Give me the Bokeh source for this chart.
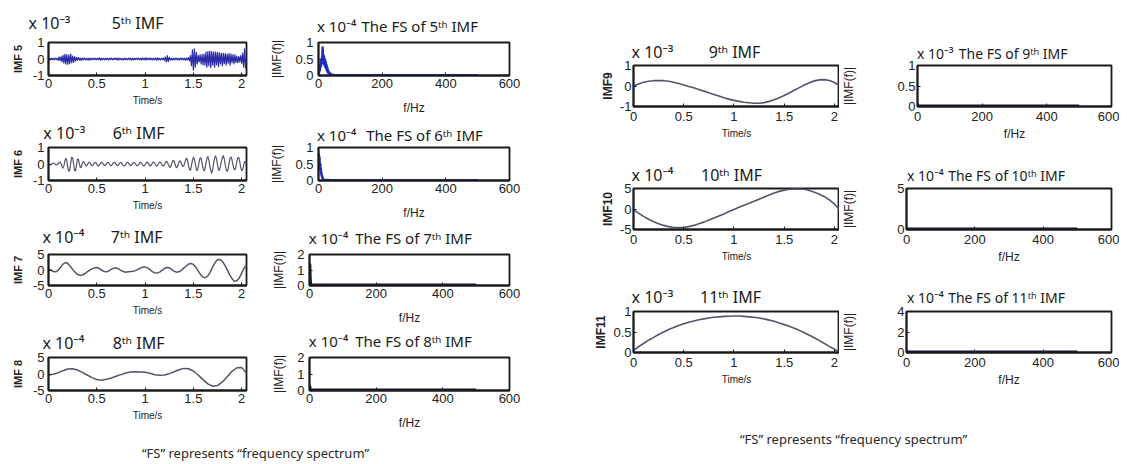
import numpy as np
from bokeh.plotting import figure
from bokeh.models import (Range1d, FixedTicker, Label, Spacer, NumeralTickFormatter,
                          LinearAxis)
from bokeh.layouts import row, column
from bokeh.embed import file_html
from bokeh.resources import INLINE

# ---------------------------------------------------------------- data
# sampling steps (s) of the hand-read IMF traces
dt_imf5 = 0.01
dt_imf6 = 0.01
dt_imf7 = 0.025
dt_imf8 = 0.05
dt_imf9 = 0.05
dt_imf10 = 0.05
dt_imf11 = 0.05

# IMF5, x1e-3
imf5 = [0.00, 0.03, -0.04, 0.05, -0.03, 0.04, -0.05, 0.06, -0.04, 0.05,
        -0.08, 0.12, -0.10, 0.15, -0.18, 0.22, -0.25, 0.28, -0.30, 0.26,
        -0.32, 0.24, -0.28, 0.30, -0.22, 0.18, -0.20, 0.15, -0.12, 0.10,
        -0.08, 0.10, -0.07, 0.06, -0.09, 0.05, -0.04, 0.06, -0.05, 0.04,
        -0.06, 0.05, -0.08, 0.06, -0.05, 0.04, -0.03, 0.05, -0.04, 0.03,
        -0.05, 0.06, -0.04, 0.07, -0.08, 0.05, -0.04, 0.03, -0.05, 0.04,
        -0.03, 0.04, -0.06, 0.05, -0.04, 0.06, -0.05, 0.04, -0.03, 0.05,
        -0.04, 0.06, -0.07, 0.05, -0.04, 0.03, -0.05, 0.04, -0.06, 0.05,
        -0.04, 0.03, -0.05, 0.06, -0.04, 0.05, -0.07, 0.06, -0.05, 0.04,
        -0.03, 0.05, -0.04, 0.06, -0.05, 0.04, -0.06, 0.07, -0.05, 0.04,
        -0.06, 0.08, -0.06, 0.05, -0.04, 0.06, -0.05, 0.04, -0.06, 0.05,
        -0.04, 0.06, -0.08, 0.07, -0.05, 0.04, -0.06, 0.05, -0.04, 0.06,
        -0.08, 0.12, -0.18, 0.20, -0.16, 0.10, -0.07, 0.05, -0.06, 0.04,
        -0.05, 0.06, -0.04, 0.05, -0.06, 0.04, -0.05, 0.06, -0.04, 0.05,
        -0.06, 0.05, -0.07, 0.06, -0.05, 0.08, -0.12, 0.20, -0.40, 0.55,
        -0.68, 0.62, -0.50, 0.40, -0.30, 0.22, -0.18, 0.25, -0.30, 0.28,
        -0.35, 0.30, -0.38, 0.42, -0.50, 0.45, -0.40, 0.48, -0.52, 0.45,
        -0.38, 0.44, -0.50, 0.42, -0.35, 0.40, -0.45, 0.38, -0.30, 0.35,
        -0.40, 0.34, -0.28, 0.32, -0.36, 0.30, -0.25, 0.33, -0.38, 0.30,
        -0.22, 0.26, -0.30, 0.25, -0.20, 0.18, -0.22, 0.15, -0.18, 0.20,
        -0.25, 0.35, -0.50, 0.62, -0.55, 0.10]

# IMF6, x1e-3
imf6 = [0.00, -0.03, -0.05, -0.02, 0.03, 0.06, 0.04, -0.02, -0.06, -0.04,
        0.03, 0.10, 0.12, 0.02, -0.15, -0.25, -0.10, 0.20, 0.35, 0.20,
        -0.20, -0.45, -0.35, 0.05, 0.40, 0.38, 0.00, -0.40, -0.42, -0.05,
        0.30, 0.28, 0.00, -0.22, -0.18, 0.05, 0.15, 0.10, -0.05, -0.12,
        -0.08, 0.04, 0.12, 0.08, -0.03, -0.10, -0.08, 0.02, 0.10, 0.09,
        0.00, -0.10, -0.12, -0.04, 0.06, 0.10, 0.06, -0.04, -0.10, -0.07,
        0.02, 0.09, 0.08, 0.00, -0.08, -0.10, -0.04, 0.05, 0.10, 0.06,
        -0.03, -0.09, -0.08, 0.00, 0.07, 0.09, 0.04, -0.05, -0.11, -0.10,
        -0.02, 0.08, 0.11, 0.05, -0.05, -0.10, -0.07, 0.02, 0.09, 0.08,
        0.00, -0.08, -0.10, -0.05, 0.04, 0.10, 0.08, -0.02, -0.10, -0.12,
        -0.05, 0.06, 0.12, 0.08, -0.04, -0.12, -0.10, 0.00, 0.10, 0.12,
        0.04, -0.08, -0.14, -0.08, 0.04, 0.12, 0.10, 0.00, -0.10, -0.12,
        -0.04, 0.08, 0.16, 0.12, -0.02, -0.15, -0.20, -0.08, 0.10, 0.22,
        0.18, 0.00, -0.18, -0.22, -0.08, 0.10, 0.20, 0.12, -0.05, -0.15,
        -0.12, 0.05, 0.25, 0.35, 0.20, -0.10, -0.35, -0.38, -0.12, 0.22,
        0.40, 0.30, 0.00, -0.30, -0.40, -0.20, 0.15, 0.38, 0.35, 0.05,
        -0.25, -0.42, -0.30, 0.05, 0.35, 0.45, 0.25, -0.10, -0.40, -0.55,
        -0.35, 0.05, 0.38, 0.48, 0.30, -0.05, -0.35, -0.38, -0.15, 0.15,
        0.40, 0.50, 0.30, -0.05, -0.35, -0.45, -0.30, 0.05, 0.35, 0.42,
        0.25, -0.05, -0.30, -0.35, -0.15, 0.15, 0.38, 0.40, 0.15, -0.20,
        -0.40, -0.35, -0.10, 0.15, 0.10, 0.00]

# IMF7, x1e-4
imf7 = [0.3, 0.0, -0.5, -0.6, -0.1, 0.9, 1.9, 2.4, 2.1, 1.2,
        0.2, -0.7, -1.4, -1.7, -1.6, -1.2, -0.6, -0.1, 0.4, 0.7,
        0.8, 0.5, 0.0, -0.5, -0.6, -0.3, 0.2, 0.6, 0.7, 0.4,
        -0.1, -0.5, -0.7, -0.6, -0.5, -0.4, -0.2, 0.2, 0.6, 0.9,
        1.0, 0.7, 0.1, -0.5, -0.9, -1.0, -0.7, -0.1, 0.5, 0.8,
        0.7, 0.2, -0.4, -0.7, -0.6, -0.1, 0.6, 1.3, 1.9, 2.1,
        1.8, 0.9, -0.3, -1.5, -2.3, -2.5, -1.9, -0.6, 1.0, 2.4,
        3.3, 3.4, 2.8, 1.6, 0.1, -1.5, -2.8, -3.6, -3.5, -2.6,
        -1.0, 0.6, 1.5]

# IMF8, x1e-4
imf8 = [-0.3, -0.1, 0.4, 1.0, 1.5, 1.6, 1.2, 0.5, -0.3, -1.1,
        -1.7, -1.9, -1.6, -1.2, -0.7, -0.2, 0.3, 0.6, 0.7, 0.6,
        0.5, 0.2, -0.2, -0.4, -0.3, 0.1, 0.7, 1.3, 1.7, 1.6,
        0.9, -0.3, -1.7, -3.0, -3.7, -3.5, -2.4, -0.8, 0.8, 1.9,
        2.0, 0.2]

# IMF9, x1e-3
imf9 = [0.00, 0.10, 0.18, 0.23, 0.26, 0.27, 0.26, 0.23, 0.18, 0.12,
        0.05, -0.02, -0.09, -0.17, -0.25, -0.33, -0.41, -0.49, -0.57, -0.64,
        -0.70, -0.75, -0.79, -0.82, -0.84, -0.84, -0.81, -0.75, -0.67, -0.57,
        -0.46, -0.34, -0.21, -0.08, 0.05, 0.16, 0.25, 0.30, 0.31, 0.27,
        0.17, 0.02]

# IMF10, x1e-4
imf10 = [-0.2, -1.0, -1.8, -2.5, -3.1, -3.6, -4.0, -4.3, -4.5, -4.55,
         -4.5, -4.3, -4.0, -3.6, -3.2, -2.7, -2.2, -1.7, -1.2, -0.6,
         -0.1, 0.4, 0.9, 1.4, 1.9, 2.4, 2.9, 3.4, 3.9, 4.3,
         4.6, 4.8, 4.9, 4.9, 4.8, 4.5, 4.1, 3.6, 3.0, 2.2,
         1.2, -0.2]

# IMF11, x1e-3
imf11 = [0.05, 0.14, 0.22, 0.30, 0.37, 0.44, 0.50, 0.56, 0.61, 0.66,
         0.70, 0.74, 0.77, 0.80, 0.82, 0.84, 0.86, 0.87, 0.88, 0.885,
         0.89, 0.89, 0.88, 0.87, 0.86, 0.84, 0.82, 0.79, 0.76, 0.72,
         0.68, 0.64, 0.59, 0.54, 0.48, 0.42, 0.36, 0.29, 0.22, 0.15,
         0.08, 0.01]

# Frequency spectra (Hz, magnitude in the axis multiplier units)
fs5_f = list(range(0, 51)) + [80, 500]
fs5 = [0.02, 0.06, 0.12, 0.22, 0.15, 0.32, 0.24, 0.42, 0.30, 0.48,
       0.36, 0.55, 0.40, 0.85, 0.46, 0.62, 0.38, 0.58, 0.34, 0.50,
       0.30, 0.46, 0.26, 0.40, 0.22, 0.32, 0.16, 0.26, 0.12, 0.18,
       0.09, 0.13, 0.07, 0.10, 0.05, 0.07, 0.04, 0.05, 0.03, 0.04,
       0.03, 0.03, 0.02, 0.02, 0.02, 0.02, 0.01, 0.02, 0.01, 0.01,
       0.01, 0.01, 0.01]
fs6_f = list(range(0, 17)) + [40, 500]
fs6 = [0.30, 0.80, 0.45, 0.70, 0.40, 0.50, 0.32, 0.38, 0.22, 0.25,
       0.14, 0.15, 0.08, 0.08, 0.04, 0.03, 0.02, 0.01, 0.01]
fs7_f = [0, 1, 2, 3, 4, 6, 10, 500]
fs7 = [0.05, 1.35, 0.55, 0.15, 0.06, 0.03, 0.03, 0.03]
fs8_f = [0, 1, 2, 3, 5, 500]
fs8 = [0.05, 0.25, 0.10, 0.05, 0.03, 0.03]
fs9_f = [0, 1, 2, 4, 500]
fs9 = [0.01, 0.03, 0.02, 0.015, 0.015]
fs10_f = [0, 1, 2, 4, 500]
fs10 = [0.05, 0.15, 0.07, 0.06, 0.06]
fs11_f = [0, 1, 2, 4, 500]
fs11 = [0.10, 0.15, 0.06, 0.05, 0.05]

time_ticks = [0, 0.5, 1, 1.5, 2]
freq_ticks = [0, 200, 400, 600]
note_text = "\u201cFS\u201d represents \u201cfrequency spectrum\u201d"
M3 = "x 10\u207b\u00b3"
M4 = "x 10\u207b\u2074"
TH = "\u1d57\u02b0"

# ---------------------------------------------------------------- style
DARK = "#1a1a1a"
TXT = "#222222"
TICK_FONT = "Liberation Sans"
TXT_FONT = "Noto Sans"


def add_top_texts(p, fw, items, fs, d):
    """One text row above the frame: items are (text, x of its centre from frame left)."""
    p.extra_x_ranges = {"px": Range1d(0, fw)}
    ticks = [cx for _, cx in items]
    ax = LinearAxis(x_range_name="px", ticker=FixedTicker(ticks=ticks),
                    major_label_overrides={cx: t for t, cx in items})
    ax.axis_line_color = None
    ax.major_tick_line_color = None
    ax.minor_tick_line_color = None
    ax.major_tick_in = 0
    ax.major_tick_out = 0
    ax.major_label_standoff = int(round(d - 0.65 * fs))
    ax.major_label_text_font = TXT_FONT
    ax.major_label_text_font_size = f"{fs}px"
    ax.major_label_text_color = DARK
    p.add_layout(ax, "above")


def make_panel(x, y, xr, xt, yr, yt, xlabel, ylabel, texts, tfs, td,
               w, h, borders, color, lw, st):
    bl, br, bt, bb = borders
    p = figure(width=w, height=h, x_range=Range1d(*xr), y_range=Range1d(*yr),
               output_backend="svg", toolbar_location=None,
               min_border_left=bl, min_border_right=br,
               min_border_top=bt, min_border_bottom=bb)
    p.line(x, y, line_color=color, line_width=lw, line_join="round")
    p.grid.visible = False
    p.outline_line_color = DARK
    p.outline_line_width = 1.8
    p.background_fill_color = "white"
    p.border_fill_color = "white"
    xa, ya = p.xaxis[0], p.yaxis[0]
    for ax in (xa, ya):
        ax.axis_line_color = DARK
        ax.axis_line_width = 1.8
        ax.major_tick_in = 3
        ax.major_tick_out = 0
        ax.major_tick_line_color = DARK
        ax.minor_tick_line_color = None
        ax.major_label_text_font = TICK_FONT
        ax.major_label_text_color = TXT
        ax.major_label_text_font_size = st["tick"]
        ax.axis_label_text_font = TICK_FONT
        ax.axis_label_text_color = TXT
        ax.formatter = NumeralTickFormatter(format="0.[0]")
    xa.ticker = FixedTicker(ticks=xt)
    ya.ticker = FixedTicker(ticks=yt)
    xa.axis_label = xlabel
    ya.axis_label = ylabel
    xa.axis_label_text_font_size = st["xl"]
    ya.axis_label_text_font_size = st["yl"]
    xa.axis_label_text_font_style = st["xl_style"]
    ya.axis_label_text_font_style = st["yl_style"]
    xa.major_label_standoff = st["xs"][0]
    xa.axis_label_standoff = st["xs"][1]
    ya.major_label_standoff = st["ys"][0]
    ya.axis_label_standoff = st["ys"][1]
    add_top_texts(p, w - bl - br, texts, tfs, td)
    return p


st_l_imf = dict(tick="13px", xl="10px", yl="11px", xl_style="normal", yl_style="bold",
                xs=(3, 4), ys=(4, 6))
st_l_fs = dict(tick="13px", xl="12px", yl="12px", xl_style="normal", yl_style="normal",
               xs=(3, 10), ys=(5, 8))
st_r_imf = dict(tick="13px", xl="10px", yl="12px", xl_style="normal", yl_style="bold",
                xs=(5, 4), ys=(2, 2))
st_r_fs = dict(tick="13px", xl="12px", yl="12px", xl_style="normal", yl_style="normal",
               xs=(5, 3), ys=(2, 38))

IMF_BLUE = "#2b2ba8"
IMF_GRAY = "#55556a"
FS_BLUE = "#1f2db5"
FS_DARK = "#15153a"
TR = (0, 2.05)
FR = (0, 600)


def tgrid(v, dt):
    return np.arange(len(v)) * dt


# ---------------------------------------------------------------- left block
left_specs = [
    dict(imf=imf5, dt=dt_imf5, yr=(-1, 1), yt=[-1, 0, 1], yl="IMF 5", col=IMF_BLUE, lw=1.2,
         texts=[(M3, 1), ("5" + TH + " IMF", 90)], td=19,
         ff=fs5_f, fv=fs5, fyr=(0, 1), fyt=[0, 0.5, 1], fcol=FS_BLUE, flw=2.5,
         ftexts=[(M4, 19), ("The FS of 5" + TH + " IMF", 106)], ftd=17, top=34),
    dict(imf=imf6, dt=dt_imf6, yr=(-1, 1), yt=[-1, 0, 1], yl="IMF 6", col=IMF_GRAY, lw=1.2,
         texts=[(M3, 16), ("6" + TH + " IMF", 91)], td=14,
         ff=fs6_f, fv=fs6, fyr=(0, 1), fyt=[0, 0.5, 1], fcol=FS_BLUE, flw=2.5,
         ftexts=[(M4, 19), ("The FS of 6" + TH + " IMF", 111)], ftd=13, top=30),
    dict(imf=imf7, dt=dt_imf7, yr=(-5, 5), yt=[-5, 0, 5], yl="IMF 7", col=IMF_GRAY, lw=1.5,
         texts=[(M4, 15), ("7" + TH + " IMF", 89)], td=17,
         ff=fs7_f, fv=fs7, fyr=(0, 2), fyt=[0, 1, 2], fcol=FS_DARK, flw=3,
         ftexts=[(M4, 19), ("The FS of 7" + TH + " IMF", 104)], ftd=17, top=30),
    dict(imf=imf8, dt=dt_imf8, yr=(-5, 5), yt=[-5, 0, 5], yl="IMF 8", col=IMF_GRAY, lw=1.5,
         texts=[(M4, 15), ("8" + TH + " IMF", 91)], td=14,
         ff=fs8_f, fv=fs8, fyr=(0, 2), fyt=[0, 1, 2], fcol=FS_DARK, flw=3,
         ftexts=[(M4, 19), ("The FS of 8" + TH + " IMF", 104)], ftd=17, top=30),
]

left_rows = []
for s in left_specs:
    h = s["top"] + 33 + 42
    a = make_panel(tgrid(s["imf"], s["dt"]), s["imf"], TR, time_ticks, s["yr"], s["yt"],
                   "Time/s", s["yl"], s["texts"], 16, s["td"], 259, h,
                   (38, 21, s["top"], 42), s["col"], s["lw"], st_l_imf)
    b = make_panel(s["ff"], s["fv"], FR, freq_ticks, s["fyr"], s["fyt"],
                   "f/Hz", "|IMF(f)|", s["ftexts"], 15, s["ftd"], 286, h,
                   (42, 44, s["top"], 42), s["fcol"], s["flw"], st_l_fs)
    left_rows.append(row(a, b))


def note_fig(w, h, x, y):
    p = figure(width=w, height=h, x_axis_type=None, y_axis_type=None,
               x_range=Range1d(0, 1), y_range=Range1d(0, 1),
               output_backend="svg", toolbar_location=None, min_border=0,
               outline_line_color=None)
    p.add_layout(Label(x=x, y=y, x_units="screen", y_units="screen", text=note_text,
                       text_align="center", text_baseline="middle",
                       text_font=TXT_FONT, text_font_size="13px", text_color="#2a2a2a"))
    return p


left = column(*left_rows, note_fig(545, 32, 247, 12))

# ---------------------------------------------------------------- right block
right_specs = [
    dict(imf=imf9, dt=dt_imf9, yr=(-1, 1), yt=[-1, 0, 1], yl="IMF9",
         texts=[(M3, 19), ("9" + TH + " IMF", 101)], td=13,
         ff=fs9_f, fv=fs9, fyr=(0, 1), fyt=[0, 0.5, 1],
         ftexts=[(M3, 19), ("The FS of 9" + TH + " IMF", 102)], ftd=12),
    dict(imf=imf10, dt=dt_imf10, yr=(-5, 5), yt=[-5, 0, 5], yl="IMF10",
         texts=[(M4, 19), ("10" + TH + " IMF", 98)], td=13,
         ff=fs10_f, fv=fs10, fyr=(0, 5), fyt=[0, 5],
         ftexts=[(M4, 19), ("The FS of 10" + TH + " IMF", 101)], ftd=13),
    dict(imf=imf11, dt=dt_imf11, yr=(0, 1), yt=[0, 0.5, 1], yl="IMF11",
         texts=[(M3, 19), ("11" + TH + " IMF", 97)], td=14,
         ff=fs11_f, fv=fs11, fyr=(0, 4), fyt=[0, 2, 4],
         ftexts=[(M4, 19), ("The FS of 11" + TH + " IMF", 101)], ftd=14),
]

right_rows = []
for s in right_specs:
    a = make_panel(tgrid(s["imf"], s["dt"]), s["imf"], TR, time_ticks, s["yr"], s["yt"],
                   "Time/s", s["yl"], s["texts"], 16, s["td"], 286, 123, (80, 0, 37, 45),
                   IMF_GRAY, 1.6, st_r_imf)
    b = make_panel(s["ff"], s["fv"], FR, freq_ticks, s["fyr"], s["fyt"],
                   "f/Hz", "|IMF(f)|", s["ftexts"], 14, s["ftd"], 280, 123, (65, 8, 37, 45),
                   FS_DARK, 3, st_r_fs)
    right_rows.append(row(a, b))

right = column(Spacer(width=566, height=20), *right_rows, note_fig(566, 67, 300, 26))

page = column(Spacer(width=1119, height=8), row(Spacer(width=8, height=456), left, right))
open("out.html", "w").write(file_html(page, INLINE))
